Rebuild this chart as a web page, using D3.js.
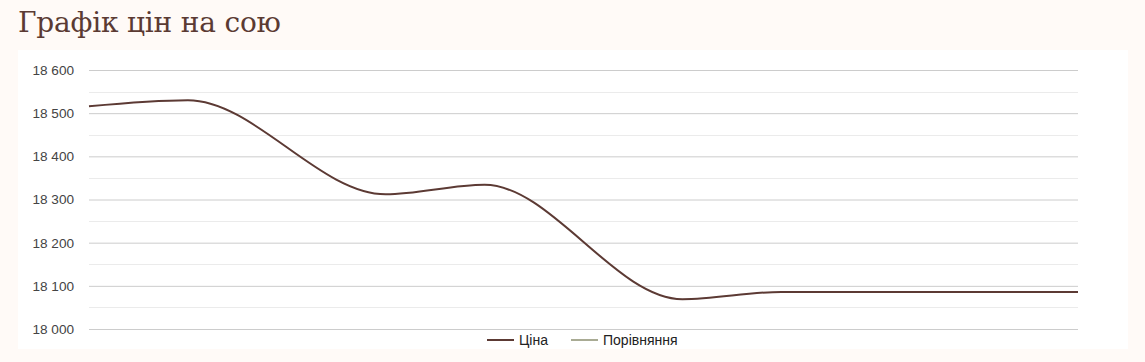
<!DOCTYPE html>
<html lang="uk">
<head>
  <meta charset="UTF-8">
  <title>Графік цін на сою</title>
  <script src="https://d3js.org/d3.v7.min.js"></script>
  <style>
    html, body { margin: 0; padding: 0; background: #fffaf7; }
    body { width: 1145px; height: 362px; overflow: hidden; position: relative; }
    h1 {
      position: absolute; left: 18px; top: 6px; margin: 0;
      font-family: "DejaVu Serif", serif; font-weight: normal;
      font-size: 28px; color: #5b3a33; letter-spacing: -0.2px;
    }
    #chart { position: absolute; left: 0; top: 0; }
  </style>
</head>
<body>
  <h1>Графік цін на сою</h1>
  <div id="chart"></div>
  <script>
    // Data (x = day offset)
    const days = [0, 1, 3, 4, 6, 7, 8, 9, 10];
    const prices = [18516, 18530, 18312, 18334, 18069, 18086, 18086, 18086, 18086];
    const yTicks = [18000, 18100, 18200, 18300, 18400, 18500, 18600];
    const seriesNames = ['Ціна', 'Порівняння'];
    const seriesColors = ['#5c3a34', '#a9ab94'];

    const width = 1145, height = 362;
    const margin = {top: 70, right: 67, bottom: 33, left: 89};

    const svg = d3.select('#chart').append('svg')
      .attr('width', width).attr('height', height);

    // white panel
    svg.append('rect')
      .attr('x', 18).attr('y', 50).attr('width', 1110).attr('height', 299)
      .attr('fill', '#fff');

    const x = d3.scaleLinear()
      .domain(d3.extent(days))
      .range([margin.left, width - margin.right]);
    const y = d3.scaleLinear()
      .domain([18000, 18600])
      .range([height - margin.bottom, margin.top]);

    // minor gridlines
    const minor = d3.range(18050, 18600, 100);
    svg.append('g').selectAll('line').data(minor).join('line')
      .attr('x1', x.range()[0]).attr('x2', x.range()[1])
      .attr('y1', d => Math.round(y(d)) + 0.5).attr('y2', d => Math.round(y(d)) + 0.5)
      .attr('stroke', '#ebebeb');

    // y axis with major gridlines
    const fmt = d => d3.format(',')(d).replace(',', ' ');
    const yAxis = svg.append('g')
      .attr('transform', `translate(${margin.left},0)`)
      .call(d3.axisLeft(y).tickValues(yTicks).tickFormat(fmt)
        .tickSize(-(x.range()[1] - x.range()[0])).tickPadding(15));
    yAxis.select('.domain').remove();
    yAxis.selectAll('.tick line').attr('stroke', '#cccccc');
    yAxis.selectAll('.tick text')
      .attr('fill', '#444').attr('font-size', 13.6)
      .attr('font-family', '"Liberation Sans", Arial, sans-serif');

    // price line
    const line = d3.line()
      .x((d, i) => x(days[i]))
      .y(d => y(d))
      .curve(d3.curveMonotoneX);
    svg.append('path')
      .datum(prices)
      .attr('fill', 'none')
      .attr('stroke', seriesColors[0])
      .attr('stroke-width', 2)
      .attr('d', line);

    // legend
    const legend = svg.append('g').attr('transform', 'translate(487,340)');
    const offsets = [0, 84];
    seriesNames.forEach((name, i) => {
      const g = legend.append('g').attr('transform', `translate(${offsets[i]},0)`);
      g.append('line').attr('x1', 0).attr('x2', 27).attr('y1', 0).attr('y2', 0)
        .attr('stroke', seriesColors[i]).attr('stroke-width', 2);
      g.append('text').attr('x', 32).attr('y', 5)
        .attr('font-size', 14).attr('fill', '#222')
        .attr('font-family', '"Liberation Sans", Arial, sans-serif')
        .text(name);
    });
  </script>
</body>
</html>
